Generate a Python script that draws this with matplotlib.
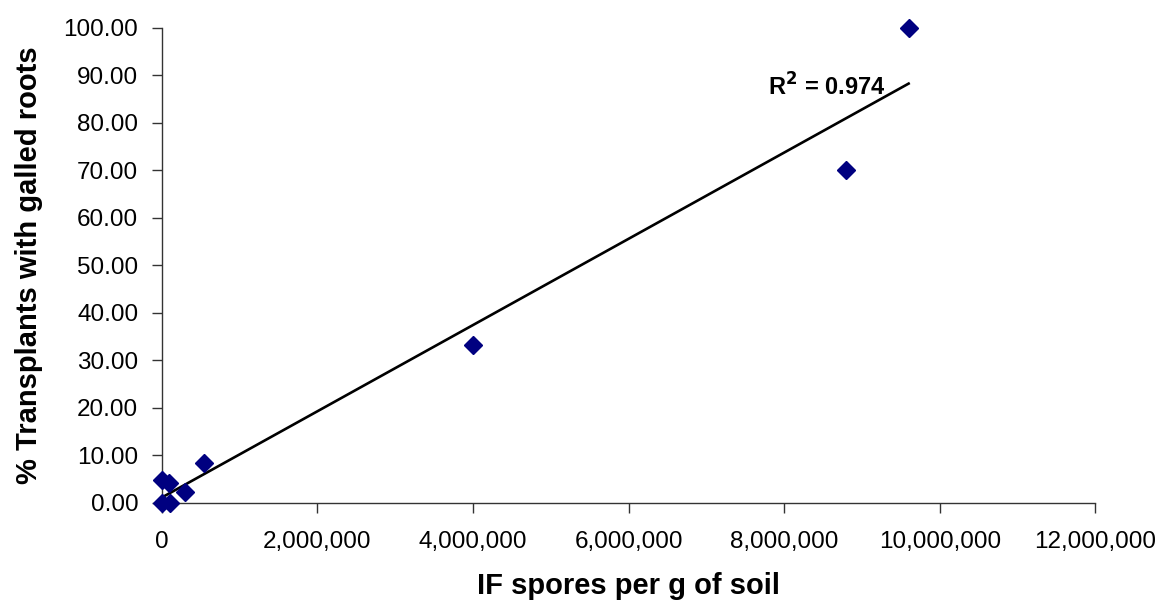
import numpy as np
import matplotlib
matplotlib.use('Agg')
import matplotlib.pyplot as plt
from matplotlib.ticker import FuncFormatter

plt.rcParams['font.family'] = ['Liberation Sans', 'DejaVu Sans']

# spores per g of soil vs % transplants with galled roots
spores = [0, 0, 100000, 90000, 300000, 540000, 4000000, 8800000, 9600000]
galled = [0.00, 4.76, 0.00, 4.17, 2.38, 8.33, 33.33, 70.00, 100.00]

x_ticks = [0, 2000000, 4000000, 6000000, 8000000, 10000000, 12000000]
y_ticks = [0, 10, 20, 30, 40, 50, 60, 70, 80, 90, 100]

fig = plt.figure(figsize=(11.64, 6.06), dpi=100)
ax = fig.add_axes([0.139, 0.170, 0.802, 0.784])

ax.plot(spores, galled, linestyle='none', marker='D', markersize=9.2,
        color='#000080', clip_on=False, zorder=5)

# linear trend line over the data range
xs = np.array(spores, dtype=float)
ys = np.array(galled, dtype=float)
slope, inter = np.polyfit(xs, ys, 1)
xl = np.array([xs.min(), xs.max()])
ax.plot(xl, slope * xl + inter, color='black', linewidth=1.9, zorder=4)
ax.text(7.79e6, 87.5, r'R$^{\mathbf{2}}$ = 0.974', fontsize=17, fontweight='bold',
        ha='left', va='center')

ax.set_xlim(0, 12000000)
ax.set_ylim(0, 100)
ax.set_xticks(x_ticks)
ax.set_yticks(y_ticks)
ax.xaxis.set_major_formatter(FuncFormatter(lambda v, p: f'{int(v):,}'))
ax.yaxis.set_major_formatter(FuncFormatter(lambda v, p: f'{v:.2f}'))

for s in ['top', 'right']:
    ax.spines[s].set_visible(False)
for s in ['left', 'bottom']:
    ax.spines[s].set_linewidth(1.0)
    ax.spines[s].set_color('#333333')
ax.tick_params(direction='out', length=7, width=1.0, color='#333333',
               labelsize=17.5)
ax.tick_params(axis='y', pad=10)
ax.tick_params(axis='x', pad=13)

ax.set_xlabel('IF spores per g of soil', fontsize=21, fontweight='bold', labelpad=14)
ax.set_ylabel('% Transplants with galled roots', fontsize=21, fontweight='bold', labelpad=15)

fig.savefig('out.png', dpi=100)
